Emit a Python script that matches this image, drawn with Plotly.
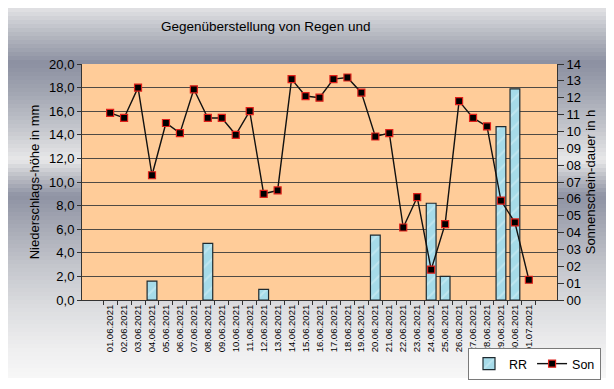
import plotly.graph_objects as go

# ---------------- data ----------------
dates = ["01.06.2021", "02.06.2021", "03.06.2021", "04.06.2021", "05.06.2021",
         "06.06.2021", "07.06.2021", "08.06.2021", "09.06.2021", "10.06.2021",
         "11.06.2021", "12.06.2021", "13.06.2021", "14.06.2021", "15.06.2021",
         "16.06.2021", "17.06.2021", "18.06.2021", "19.06.2021", "20.06.2021",
         "21.06.2021", "22.06.2021", "23.06.2021", "24.06.2021", "25.06.2021",
         "26.06.2021", "27.06.2021", "28.06.2021", "29.06.2021", "30.06.2021",
         "01.07.2021"]
rr = [None, None, None, 1.6, None, None, None, 4.8, None, None,
      None, 0.9, None, None, None, None, None, None, None, 5.5,
      None, None, None, 8.2, 2.0, None, None, None, 14.7, 17.9,
      None]
son = [11.1, 10.8, 12.6, 7.4, 10.5, 9.9, 12.5, 10.8, 10.8, 9.8,
       11.2, 6.3, 6.5, 13.1, 12.1, 12.0, 13.1, 13.2, 12.3, 9.7,
       9.9, 4.3, 6.1, 1.8, 4.5, 11.8, 10.8, 10.3, 5.9, 4.6,
       1.2]
left_ticks = [0, 2, 4, 6, 8, 10, 12, 14, 16, 18, 20]
right_ticks = list(range(0, 15))

# ---------------- geometry (pixels) ----------------
W, H = 614, 389
PL, PR, PT, PB = 74, 549, 56, 292
CHART_W, CHART_H = 603, 370

def px_x(px):
    return (px - PL) / (PR - PL)

def px_y(py):
    return (PB - py) / (PB - PT)

fig = go.Figure()

fig.add_trace(go.Bar(
    x=dates, y=rr, name="RR",
    marker=dict(color="#A6DBE9", line=dict(color="#1E2A30", width=1.2),
                pattern=dict(shape="/", fgcolor="#D6F0F6", size=10, solidity=0.2)),
    yaxis="y",
))
fig.add_trace(go.Scatter(
    x=dates, y=son, name="Son", mode="lines+markers",
    line=dict(color="#111111", width=1.4),
    marker=dict(symbol="square", size=7, color="#000000",
                line=dict(color="#E0201A", width=1.2)),
    yaxis="y2",
))

# gradient background of the chart area
stops = [(0, (0xE2, 0xE2, 0xE5)), (25, (0xB8, 0xBB, 0xC3)), (55, (0x8C, 0x90, 0xA1)),
         (85, (0xA2, 0xA6, 0xB2)), (120, (0xC4, 0xC6, 0xCC)), (152, (0xE8, 0xE8, 0xE9)),
         (168, (0xBE, 0xC0, 0xC7)), (188, (0x8E, 0x92, 0xA3)), (215, (0xA4, 0xA7, 0xB3)),
         (260, (0xC5, 0xC7, 0xCD)), (300, (0xDC, 0xDD, 0xE0)), (340, (0xEE, 0xEE, 0xEF)),
         (370, (0xF7, 0xF7, 0xF7))]

def col_at(py):
    for (y0, c0), (y1, c1) in zip(stops[:-1], stops[1:]):
        if y0 <= py <= y1:
            t = (py - y0) / (y1 - y0) if y1 > y0 else 0
            return "rgb(%d,%d,%d)" % tuple(round(a + (b - a) * t) for a, b in zip(c0, c1))
    return "rgb(247,247,247)"

shapes = []
step = 4
for py in range(0, CHART_H, step):
    shapes.append(dict(type="rect", xref="paper", yref="paper", layer="below",
                       x0=px_x(0), x1=px_x(CHART_W), y0=px_y(min(py + step + 0.6, CHART_H)), y1=px_y(py),
                       fillcolor=col_at(py + step / 2), line=dict(width=0)))
# plot area fill
shapes.append(dict(type="rect", xref="paper", yref="paper", layer="below",
                   x0=0, x1=1, y0=0, y1=1, fillcolor="#FFCC99", line=dict(width=0)))

fig.update_layout(
    width=W, height=H,
    margin=dict(l=PL, r=W - PR, t=PT, b=H - PB, autoexpand=False),
    paper_bgcolor="white", plot_bgcolor="rgba(0,0,0,0)",
    font=dict(family="Liberation Sans, Arial, sans-serif", color="#000000", size=13),
    separators=",.",
    shapes=shapes,
    bargap=0.3,
    showlegend=True,
    legend=dict(orientation="h", xref="container", yref="container",
                x=593 / W, y=1 - 340 / H, xanchor="right", yanchor="top",
                bgcolor="white", bordercolor="#7A7A7A", borderwidth=1,
                font=dict(size=12.5), itemwidth=30, tracegroupgap=0),
    annotations=[dict(text="Gegenüberstellung von Regen und", xref="paper", yref="paper",
                      x=px_x(257), y=px_y(18), xanchor="center", yanchor="middle",
                      showarrow=False, font=dict(size=13.5))],
    xaxis=dict(type="category", tickangle=-90, tickson="boundaries", ticks="outside",
               ticklen=4, tickcolor="#333333", showline=True, linecolor="#333333",
               linewidth=1, tickfont=dict(size=9.5), showgrid=False, zeroline=False,
               automargin=False),
    yaxis=dict(range=[0, 20], tickvals=left_ticks, tickformat=".1f", ticks="outside",
               ticklen=4, tickcolor="#333333", showline=True, linecolor="#333333",
               showgrid=True, gridcolor="#4F4A44", gridwidth=1, zeroline=False,
               title=dict(text="Niederschlags-höhe in mm", standoff=6, font=dict(size=13)),
               tickfont=dict(size=13), automargin=False),
    yaxis2=dict(range=[0, 14], tickvals=right_ticks, tickformat="02d", overlaying="y",
                side="right", ticks="outside", ticklen=6, tickcolor="#333333",
                showline=True, linecolor="#333333", showgrid=False, zeroline=False,
                title=dict(text="Sonnenschein-dauer in h", standoff=5, font=dict(size=13)),
                tickfont=dict(size=13), automargin=False),
)

fig.write_html("out.html")
